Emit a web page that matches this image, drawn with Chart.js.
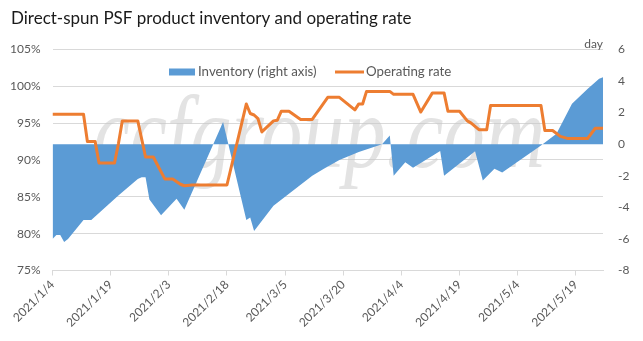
<!DOCTYPE html>
<html>
<head>
<meta charset="utf-8">
<script src="https://cdn.jsdelivr.net/npm/chart.js@4.4.1/dist/chart.umd.min.js"></script>
<style>
  html, body { margin: 0; padding: 0; background: #fff; }
</style>
</head>
<body>
<canvas id="chart" width="643" height="341"></canvas>
<script>
// x axis runs day by day from the first to the last observation
const startDate = "2021/1/4";
const endDate = "2021/5/26";
const xTickLabels = ["2021/1/4", "2021/1/19", "2021/2/3", "2021/2/18", "2021/3/5",
  "2021/3/20", "2021/4/4", "2021/4/19", "2021/5/4", "2021/5/19"];

// inventory, days (right axis)
const invDates = ["2021/1/4", "2021/1/5", "2021/1/6", "2021/1/7", "2021/1/8", "2021/1/11",
  "2021/1/12", "2021/1/14", "2021/1/21", "2021/1/26", "2021/1/27", "2021/1/28", "2021/1/29",
  "2021/2/1", "2021/2/5", "2021/2/7", "2021/2/17", "2021/2/23", "2021/2/24", "2021/2/25",
  "2021/3/2", "2021/3/12", "2021/3/15", "2021/3/19", "2021/3/24", "2021/3/30", "2021/4/1",
  "2021/4/2", "2021/4/5", "2021/4/7", "2021/4/14", "2021/4/15", "2021/4/23", "2021/4/25",
  "2021/4/28", "2021/4/30", "2021/5/10", "2021/5/14", "2021/5/18", "2021/5/22", "2021/5/25",
  "2021/5/26"];
const invValues = [-6.0, -5.75, -5.75, -6.2, -6.0, -5.1,
  -4.8, -4.8, -3.25, -2.2, -2.1, -2.1, -3.5,
  -4.5, -3.45, -4.15, 1.4, -4.8, -4.65, -5.5,
  -3.9, -2.0, -1.55, -1.0, -0.5, 0.0, 0.55,
  -2.0, -1.14, -1.5, -0.44, -2.0, -0.45, -2.3,
  -1.56, -1.8, -0.08, 0.66, 2.56, 3.5, 4.14,
  4.24];

// operating rate, % (left axis)
const rateDates = ["2021/1/4", "2021/1/12", "2021/1/13", "2021/1/15", "2021/1/16", "2021/1/20",
  "2021/1/21", "2021/1/22", "2021/1/26", "2021/1/28", "2021/1/30", "2021/2/2", "2021/2/4",
  "2021/2/6", "2021/2/7", "2021/2/9", "2021/2/18", "2021/2/23", "2021/2/24", "2021/2/25",
  "2021/2/26", "2021/2/27", "2021/3/2", "2021/3/3", "2021/3/4", "2021/3/6", "2021/3/9",
  "2021/3/12", "2021/3/16", "2021/3/19", "2021/3/23", "2021/3/24", "2021/3/25", "2021/3/26",
  "2021/4/1", "2021/4/2", "2021/4/7", "2021/4/9", "2021/4/12", "2021/4/15", "2021/4/16",
  "2021/4/19", "2021/4/21", "2021/4/22", "2021/4/24", "2021/4/26", "2021/4/27", "2021/5/10",
  "2021/5/11", "2021/5/13", "2021/5/15", "2021/5/17", "2021/5/22", "2021/5/24", "2021/5/26"];
const rateValues = [96.2, 96.2, 92.5, 92.5, 89.6, 89.6,
  92.2, 95.3, 95.3, 90.4, 90.4, 87.4, 87.4,
  86.7, 86.5, 86.6, 86.6, 97.6, 96.3, 96.1,
  95.6, 93.8, 95.3, 95.4, 96.6, 96.6, 95.5,
  95.5, 98.5, 98.5, 96.8, 97.6, 97.6, 99.3,
  99.3, 98.9, 98.9, 96.5, 99.1, 99.1, 96.6,
  96.6, 95.3, 95.0, 94.1, 94.1, 97.4, 97.4,
  94.0, 94.0, 93.2, 92.9, 92.9, 94.3, 94.3];

const FONT = "Lato";
const LABEL_COLOR = "#595959";
const GRID_COLOR = "#d9d9d9";

function dayIndex(s) {
  const [y, m, d] = s.split("/").map(Number);
  const [y0, m0, d0] = startDate.split("/").map(Number);
  return Math.round((Date.UTC(y, m - 1, d) - Date.UTC(y0, m0 - 1, d0)) / 86400000);
}

function toPoints(dates, values) {
  return dates.map((d, i) => ({ x: dayIndex(d), y: values[i] }));
}

// faint site mark behind the series
const watermark = {
  id: "watermark",
  beforeDatasetsDraw(chart) {
    const ctx = chart.ctx;
    const text = "ccfgroup.com";
    ctx.save();
    ctx.font = "italic 104px 'Liberation Serif'";
    const w = ctx.measureText(text).width;
    ctx.translate(93, 167);
    ctx.scale(452 / w, 1);
    ctx.fillStyle = "rgba(200, 200, 200, 0.5)";
    ctx.textBaseline = "alphabetic";
    ctx.fillText(text, 0, 0);
    ctx.restore();
  }
};

// legend sits inside the plot, plus the unit over the right axis
const inlineLegend = {
  id: "inlineLegend",
  afterDraw(chart) {
    const ctx = chart.ctx;
    const inv = chart.data.datasets[0];
    const rate = chart.data.datasets[1];
    const y = 72;
    ctx.save();
    ctx.font = "13.3px " + FONT;
    ctx.textBaseline = "middle";
    ctx.fillStyle = inv.backgroundColor;
    ctx.fillRect(169, y - 3.5, 26, 7);
    ctx.fillStyle = LABEL_COLOR;
    ctx.fillText(inv.label, 198, y);

    const x2 = 335;
    ctx.strokeStyle = rate.borderColor;
    ctx.lineWidth = 3;
    ctx.beginPath();
    ctx.moveTo(x2, y);
    ctx.lineTo(x2 + 29, y);
    ctx.stroke();
    ctx.fillText(rate.label, x2 + 31, y);

    const right = chart.scales.y1;
    ctx.font = "12px " + FONT;
    ctx.textAlign = "right";
    ctx.textBaseline = "alphabetic";
    ctx.fillText("day", chart.chartArea.right, right.top - 1);
    ctx.restore();
  }
};

new Chart(document.getElementById("chart"), {
  type: "line",
  data: {
    datasets: [
      {
        label: "Inventory (right axis)",
        data: toPoints(invDates, invValues),
        yAxisID: "y1",
        fill: "origin",
        backgroundColor: "#5B9BD5",
        borderColor: "rgba(0,0,0,0)",
        borderWidth: 0,
        pointRadius: 0,
        order: 2
      },
      {
        label: "Operating rate",
        data: toPoints(rateDates, rateValues),
        yAxisID: "y",
        fill: false,
        borderColor: "#ED7D31",
        backgroundColor: "#ED7D31",
        borderWidth: 3,
        borderJoinStyle: "round",
        pointRadius: 0,
        order: 1
      }
    ]
  },
  options: {
    responsive: false,
    animation: false,
    devicePixelRatio: 1,
    layout: { padding: { left: 11, right: 0, top: 0, bottom: 0 } },
    plugins: {
      legend: { display: false },
      tooltip: { enabled: false },
      title: {
        display: true,
        text: "Direct-spun PSF product inventory and operating rate",
        align: "start",
        color: "#1a1a1a",
        font: { family: FONT, size: 17, weight: "normal" },
        padding: { top: 8, bottom: 21 }
      }
    },
    scales: {
      x: {
        type: "linear",
        min: 0,
        max: dayIndex(endDate),
        afterBuildTicks: (s) => {
          s.ticks = xTickLabels.map((l) => ({ value: dayIndex(l) }));
        },
        afterFit: (s) => { s.height = 70.5; },
        ticks: {
          autoSkip: false,
          maxRotation: 45,
          minRotation: 45,
          padding: 2,
          color: LABEL_COLOR,
          font: { family: FONT, size: 12 },
          callback: (v, i) => xTickLabels[i]
        },
        grid: { drawOnChartArea: false, tickLength: 5, color: GRID_COLOR },
        border: { color: GRID_COLOR }
      },
      y: {
        position: "left",
        min: 75,
        max: 105,
        afterFit: (s) => { s.width = 41.5; },
        ticks: {
          stepSize: 5,
          padding: 12,
          color: LABEL_COLOR,
          font: { family: FONT, size: 12 },
          callback: (v) => v + "%"
        },
        grid: { color: GRID_COLOR, drawTicks: false },
        border: { display: false }
      },
      y1: {
        position: "right",
        min: -8,
        max: 6,
        afterFit: (s) => { s.width = 40; },
        ticks: {
          stepSize: 2,
          padding: 15,
          color: LABEL_COLOR,
          font: { family: FONT, size: 12 }
        },
        grid: { drawOnChartArea: false, drawTicks: false },
        border: { display: false }
      }
    }
  },
  plugins: [watermark, inlineLegend]
});
</script>
</body>
</html>
